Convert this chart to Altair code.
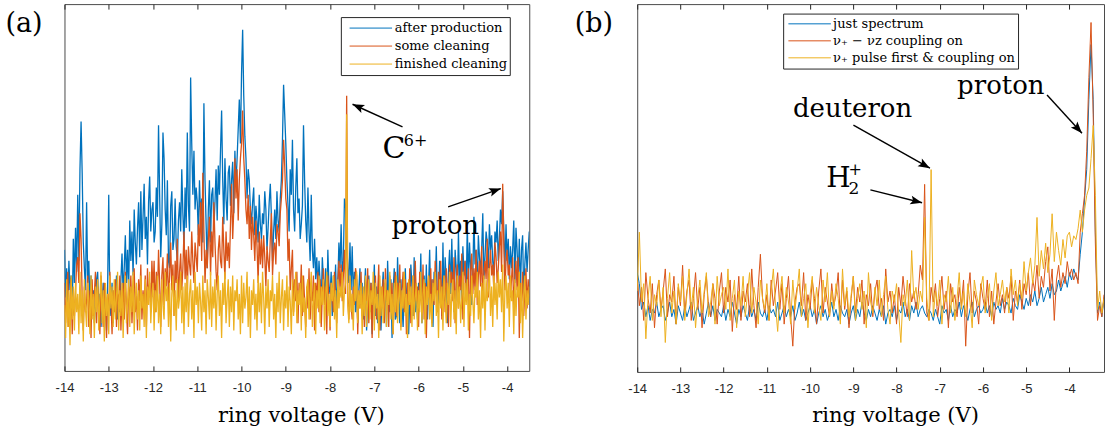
import math
import altair as alt
import pandas as pd

# ---------------- data (y in % of plot height) ----------------
X_START = -14.0
A_STEP = 0.025   # sampling step of panel (a) spectra (V)
B_STEP = 0.05    # sampling step of panel (b) spectra (V)

# panel (a)
a_after = [33, 20, 28, 17, 30, 22, 26, 15, 36, 24,
           39, 27, 48, 30, 55, 68, 54, 35, 28, 22,
           46, 24, 30, 18, 26, 15, 22, 13, 19, 25,
           27, 16, 21, 12, 17, 24, 14, 20, 11, 23,
           48, 18, 15, 24, 13, 22, 17, 26, 14, 20,
           16, 25, 32, 21, 28, 37, 24, 33, 22, 41,
           30, 38, 26, 44, 35, 29, 39, 46, 31, 49,
           33, 42, 51, 36, 42, 29, 46, 53, 38, 44,
           46, 35, 38, 50, 42, 67, 48, 31, 40, 65,
           58, 44, 37, 52, 30, 28, 45, 49, 33, 36,
           47, 34, 30, 41, 46, 38, 55, 43, 34, 50,
           39, 65, 45, 38, 80, 62, 48, 60, 44, 50,
           46, 37, 52, 42, 47, 35, 73, 52, 40, 28,
           44, 52, 35, 48, 50, 39, 46, 55, 41, 56,
           48, 60, 71, 52, 40, 58, 47, 41, 54, 56,
           45, 52, 57, 43, 60, 51, 58, 66, 74, 62,
           81, 93, 75, 64, 58, 47, 55, 52, 44, 40,
           46, 50, 37, 45, 41, 35, 48, 40, 36, 43,
           40, 49, 44, 33, 39, 46, 51, 42, 30, 38,
           44, 36, 49, 41, 38, 47, 52, 63, 78, 70,
           62, 52, 45, 38, 55, 48, 63, 44, 38, 50,
           58, 43, 47, 36, 40, 45, 67, 52, 41, 35,
           50, 38, 30, 48, 33, 28, 36, 25, 31, 22,
           30, 24, 18, 31, 25, 20, 28, 16, 33, 23,
           21, 27, 15, 26, 20, 29, 17, 24, 35, 28,
           40, 26, 30, 47, 45, 36, 28, 24, 35, 22,
           34, 20, 27, 16, 25, 13, 22, 28, 18, 24,
           14, 22, 28, 11, 19, 26, 16, 24, 10, 21,
           29, 15, 23, 13, 26, 18, 11, 21, 27, 17,
           24, 12, 30, 20, 16, 25, 9, 22, 28, 14,
           15, 31, 20, 13, 25, 18, 12, 22, 28, 17,
           24, 10, 19, 29, 23, 15, 31, 16, 21, 14,
           24, 19, 32, 13, 21, 26, 16, 29, 14, 23,
           33, 18, 25, 12, 27, 22, 34, 17, 20, 30,
           25, 15, 35, 19, 31, 24, 13, 27, 33, 21,
           36, 23, 16, 33, 28, 19, 38, 24, 30, 17,
           34, 26, 30, 21, 40, 24, 35, 28, 18, 26,
           42, 29, 33, 22, 37, 31, 27, 33, 43, 25,
           31, 38, 35, 28, 40, 33, 37, 30, 26, 38,
           35, 41, 30, 36, 44, 40, 49, 38, 28, 40,
           30, 36, 25, 34, 28, 33, 41, 24, 39, 33,
           25, 36, 22, 33, 37, 20, 29, 35, 27, 33,
           38]
a_some = [24, 13, 21, 27, 12, 19, 25, 10, 20, 15,
          22, 29, 31, 24, 43, 36, 20, 11, 23, 16,
          19, 26, 12, 22, 9, 25, 15, 21, 27, 13,
          23, 17, 10, 26, 20, 12, 24, 18, 9, 21,
          15, 27, 19, 10, 22, 16, 25, 12, 21, 18,
          26, 11, 20, 24, 14, 27, 17, 10, 23, 19,
          26, 13, 22, 28, 16, 21, 11, 25, 19, 29,
          14, 22, 17, 26, 12, 28, 20, 24, 16, 30,
          22, 30, 16, 27, 20, 33, 24, 12, 26, 31,
          18, 28, 23, 32, 19, 26, 35, 22, 29, 15,
          30, 24, 36, 19, 27, 32, 22, 28, 38, 25,
          33, 21, 34, 29, 26, 38, 30, 24, 35, 31,
          27, 40, 34, 46, 30, 54, 38, 24, 33, 28,
          36, 42, 26, 38, 31, 46, 35, 27, 22, 33,
          37, 30, 28, 42, 33, 25, 38, 30, 35, 28,
          40, 51, 36, 44, 58, 47, 55, 41, 52, 58,
          62, 71, 58, 52, 44, 40, 48, 36, 45, 33,
          42, 37, 30, 41, 34, 24, 38, 29, 36, 28,
          37, 31, 23, 34, 30, 27, 36, 43, 26, 33,
          35, 29, 40, 38, 34, 43, 47, 52, 63, 56,
          47, 44, 30, 36, 22, 28, 33, 16, 25, 19,
          27, 13, 24, 20, 29, 15, 26, 19, 12, 23,
          17, 28, 14, 22, 19, 26, 11, 24, 20, 27,
          16, 25, 12, 21, 28, 18, 23, 10, 26, 19,
          11, 24, 21, 16, 27, 19, 13, 24, 30, 22,
          29, 19, 26, 33, 21, 75, 20, 14, 25, 18,
          14, 23, 18, 28, 26, 10, 22, 17, 27, 15,
          21, 12, 25, 19, 28, 13, 20, 24, 9, 22,
          18, 26, 14, 21, 29, 11, 23, 17, 25, 13,
          28, 19, 22, 12, 26, 18, 24, 10, 21, 27,
          15, 24, 19, 29, 12, 22, 27, 16, 25, 10,
          24, 18, 28, 13, 21, 26, 15, 30, 19, 23,
          12, 27, 20, 17, 29, 14, 24, 9, 22, 26,
          19, 28, 13, 25, 18, 30, 22, 16, 27, 20,
          30, 14, 23, 26, 16, 28, 21, 12, 29, 24,
          27, 19, 31, 13, 24, 29, 17, 26, 22, 32,
          14, 26, 30, 20, 24, 28, 9, 27, 32, 21,
          28, 22, 33, 18, 26, 30, 23, 34, 19, 27,
          30, 25, 36, 20, 28, 33, 26, 29, 22, 35,
          31, 24, 28, 34, 38, 27, 51, 35, 22, 30,
          33, 26, 29, 20, 25, 31, 15, 26, 30, 22,
          31, 9, 24, 19, 27, 15, 22, 28, 17, 25,
          20]
a_finished = [18, 9, 25, 12, 22, 7, 26, 14, 23, 11,
              24, 16, 21, 10, 27, 13, 22, 8, 25, 17,
              12, 24, 19, 10, 26, 14, 21, 9, 23, 16,
              25, 11, 20, 27, 13, 22, 8, 24, 15, 21,
              10, 26, 17, 23, 12, 25, 14, 20, 27, 11,
              22, 15, 24, 9, 21, 26, 13, 19, 25, 12,
              23, 16, 27, 10, 20, 24, 14, 22, 11, 26,
              17, 21, 12, 25, 9, 23, 18, 27, 13, 20,
              24, 11, 22, 16, 26, 13, 21, 10, 25, 18,
              14, 27, 19, 23, 12, 24, 8, 21, 26, 15,
              22, 11, 25, 17, 20, 27, 13, 23, 10, 24,
              16, 26, 12, 21, 25, 14, 22, 9, 27, 18,
              23, 13, 24, 19, 11, 26, 16, 22, 10, 25,
              20, 14, 27, 12, 23, 17, 25, 11, 21, 26,
              15, 22, 9, 24, 18, 27, 13, 20, 25, 12,
              23, 16, 26, 11, 22, 19, 25, 14, 21, 10,
              26, 13, 24, 17, 20, 27, 12, 23, 9, 22,
              18, 25, 14, 21, 11, 26, 16, 24, 13, 27,
              20, 10, 23, 17, 25, 12, 22, 19, 26, 14,
              21, 9, 24, 16, 27, 13, 20, 25, 11, 22,
              17, 26, 12, 23, 19, 10, 25, 15, 21, 27,
              13, 22, 18, 24, 11, 26, 16, 20, 9, 23,
              25, 14, 21, 27, 12, 19, 24, 10, 22, 17,
              26, 13, 23, 18, 25, 11, 20, 27, 15, 21,
              12, 24, 19, 26, 14, 22, 9, 25, 17, 23,
              20, 27, 15, 22, 24, 70, 18, 13, 26, 16,
              21, 11, 25, 19, 27, 13, 22, 17, 24, 10,
              23, 15, 26, 12, 20, 25, 14, 22, 18, 27,
              11, 24, 17, 21, 9, 26, 15, 23, 13, 20,
              25, 12, 22, 18, 27, 14, 21, 10, 24, 16,
              26, 13, 20, 24, 11, 22, 17, 27, 15, 21,
              9, 25, 18, 23, 12, 26, 14, 20, 24, 11,
              22, 16, 27, 13, 21, 25, 10, 23, 18, 26,
              14, 21, 12, 24, 19, 27, 15, 22, 9, 25,
              17, 23, 11, 26, 20, 13, 24, 18, 27, 12,
              21, 25, 14, 22, 10, 26, 17, 23, 13, 20,
              27, 12, 24, 18, 25, 11, 21, 15, 26, 19,
              13, 23, 20, 27, 14, 22, 9, 24, 17, 26,
              11, 25, 19, 22, 28, 15, 23, 12, 26, 18,
              24, 14, 27, 20, 25, 16, 29, 8, 22, 26,
              17, 24, 12, 26, 19, 22, 10, 25, 15, 23,
              20, 27, 13, 24, 9, 21, 26, 14, 22, 18,
              23]

# panel (b)
b_just = [27, 24, 17, 19, 15, 18, 14, 17, 16, 19,
          15, 17, 18, 14, 16, 19, 15, 17, 13, 18,
          16, 14, 18, 15, 17, 19, 14, 16, 18, 15,
          17, 13, 16, 19, 15, 18, 14, 17, 16, 15,
          18, 14, 17, 15, 19, 16, 13, 17, 15, 18,
          16, 14, 18, 15, 17, 14, 19, 16, 15, 17,
          14, 18, 16, 17, 15, 19, 14, 16, 18, 15,
          17, 15, 18, 14, 16, 19, 15, 17, 14, 16,
          18, 15, 17, 13, 16, 18, 15, 17, 14, 16,
          19, 15, 17, 14, 18, 16, 15, 17, 13, 16,
          18, 14, 17, 15, 19, 16, 14, 17, 15, 18,
          16, 14, 17, 15, 18, 13, 16, 17, 15, 18,
          14, 17, 16, 19, 15, 17, 14, 18, 16, 19,
          15, 17, 18, 16, 15, 17, 16, 14, 17, 15,
          13, 18, 16, 17, 14, 18, 15, 17, 16, 19,
          15, 18, 16, 14, 17, 19, 15, 17, 18, 16,
          17, 19, 16, 18, 15, 19, 17, 18, 16, 20,
          17, 19, 18, 16, 20, 18, 17, 21, 19, 17,
          20, 18, 21, 19, 22, 18, 20, 23, 19, 21,
          23, 20, 24, 21, 22, 25, 22, 24, 26, 23,
          27, 25, 28, 26, 25, 32, 38, 47, 55, 74,
          89, 74, 38, 16, 19, 15, 20]
b_coupling = [26, 18, 23, 14, 27, 20, 16, 24, 12, 21,
              25, 17, 22, 28, 15, 21, 19, 26, 13, 23,
              18, 29, 16, 22, 25, 14, 20, 27, 17, 23,
              12, 21, 26, 18, 15, 24, 20, 13, 22, 27,
              16, 23, 19, 25, 11, 21, 17, 26, 14, 22,
              19, 24, 15, 28, 18, 12, 23, 32, 20, 16,
              21, 14, 25, 18, 22, 27, 17, 24, 13, 20,
              26, 15, 7, 19, 23, 24, 18, 27, 14, 21,
              17, 25, 20, 13, 22, 28, 16, 23, 19, 15,
              24, 18, 21, 27, 14, 25, 17, 22, 12, 20,
              26, 16, 23, 19, 25, 13, 21, 18, 24, 15,
              22, 25, 17, 20, 14, 28, 19, 22, 16, 21,
              13, 23, 18, 26, 20, 15, 24, 19, 22, 17,
              21, 29, 25, 51, 16, 14, 23, 19, 24, 15,
              20, 26, 17, 22, 12, 24, 19, 21, 15, 23,
              18, 25, 7, 21, 27, 16, 22, 19, 13, 24,
              20, 17, 25, 15, 22, 13, 19, 24, 18, 21,
              16, 23, 20, 26, 14, 22, 19, 25, 17, 24,
              21, 27, 18, 25, 22, 29, 20, 26, 23, 30,
              34, 22, 28, 14, 25, 29, 23, 27, 24, 30,
              26, 28, 25, 27, 24, 38, 43, 48, 60, 80,
              95, 70, 35, 14, 18, 15, 21]
b_pulse = [22, 38, 19, 24, 9, 20, 26, 14, 21, 18,
           25, 15, 23, 8, 20, 27, 16, 22, 13, 24,
           19, 26, 14, 21, 28, 17, 23, 12, 20, 25,
           16, 22, 27, 15, 19, 24, 13, 26, 18, 21,
           23, 17, 28, 14, 20, 25, 12, 22, 18, 26,
           15, 21, 27, 16, 23, 19, 13, 25, 20, 17,
           24, 14, 22, 28, 18, 11, 21, 26, 16, 23,
           19, 13, 25, 17, 22, 28, 15, 20, 24, 12,
           21, 26, 16, 23, 18, 14, 25, 19, 27, 15,
           22, 17, 24, 20, 13, 28, 18, 23, 15, 21,
           26, 14, 20, 24, 17, 22, 12, 27, 19, 16,
           23, 18, 25, 15, 21, 26, 17, 13, 22, 19,
           24, 16, 8, 21, 18, 25, 14, 33, 20, 23,
           17, 22, 19, 42, 20, 14, 55, 15, 22, 18,
           25, 13, 21, 19, 26, 16, 23, 14, 20, 27,
           17, 22, 15, 24, 19, 12, 25, 21, 18, 23,
           26, 16, 20, 24, 14, 22, 27, 18, 21, 25,
           19, 23, 16, 28, 21, 25, 18, 24, 20, 30,
           22, 27, 31, 24, 29, 42, 26, 33, 28, 35,
           27, 32, 43, 30, 38, 33, 29, 36, 31, 37,
           38, 34, 37, 36, 39, 44, 38, 44, 48, 50,
           58, 67, 48, 17, 22, 16, 20]

a_names = ["after production", "some cleaning", "finished cleaning"]
b_names = ["just spectrum", "\u03bd\u208a \u2212 \u03bdz coupling on", "\u03bd\u208a pulse first & coupling on"]
line_colors = ["#0072BD", "#D95319", "#EDB120"]
tick_values = [-14, -13, -12, -11, -10, -9, -8, -7, -6, -5, -4]
panel_labels = ["(a)", "(b)"]
axis_title = "ring voltage (V)"

# annotations (data coordinates)
a_ann_text = ["C", "6+", "proton"]
a_ann_x = [-6.815, -6.334, -6.611]
a_ann_y = [58.0, 61.3, 37.3]
a_ann_size = [30, 16, 26]
a_arrow_x1 = [-6.363, -5.333]
a_arrow_y1 = [66.5, 44.7]
a_arrow_x2 = [-7.492, -4.143]
a_arrow_y2 = [72.7, 49.7]

b_ann_text = ["deuteron", "proton", "H", "2", "+"]
b_ann_x = [-10.397, -6.599, -9.629, -9.113, -9.110]
b_ann_y = [69.2, 75.5, 50.4, 48.3, 53.6]
b_ann_size = [26, 26, 28, 17, 16]
b_arrow_x1 = [-8.998, -8.605, -4.518]
b_arrow_y1 = [67.1, 49.5, 75.3]
b_arrow_x2 = [-7.228, -7.409, -3.709]
b_arrow_y2 = [55.4, 46.0, 64.9]

# ---------------- styling ----------------
GRAY = "#262626"
SERIF = "DejaVu Serif"
SANS = "Liberation Sans"
ARROW_PATH = "M0,0L-0.45,1.2L0,0.95L0.45,1.2Z"


def series_frame(values, name, step):
    return pd.DataFrame({
        "x": [round(X_START + step * i, 4) for i in range(len(values))],
        "y": values,
        "series": name,
    })


def make_panel(series, names, step, line_width, xdomain, width, height, legend_xy, legend_clip,
               legend_sym_off, legend_label_off, title_xy, ann, arrows, label, label_x):
    xscale = alt.Scale(domain=xdomain, nice=False, zero=False)
    yscale = alt.Scale(domain=[0, 100], nice=False, zero=False)
    cscale = alt.Scale(domain=names, range=line_colors)
    legend = alt.Legend(
        title=None, orient="none", legendX=legend_xy[0], legendY=legend_xy[1],
        direction="vertical", symbolType="stroke", symbolSize=1806,
        symbolStrokeWidth=1, symbolOffset=legend_sym_off, labelOffset=legend_label_off,
        clipHeight=legend_clip, rowPadding=0, padding=2,
        labelFont=SERIF, labelFontSize=13, labelColor="black", labelLimit=0,
        strokeColor=GRAY, fillColor="white", cornerRadius=0,
    )
    bottom_axis = alt.Axis(
        orient="bottom", values=tick_values, offset=-5, tickSize=5, tickColor=GRAY,
        tickWidth=1, domain=False, grid=False, labelFont=SANS, labelFontSize=13,
        labelFontWeight="normal", labelColor=GRAY, labelPadding=11, labelFlush=False,
        labelOverlap=False, labelExpr="replace(datum.label, '\u2212', '-')",
        title=axis_title, titleFont=SERIF, titleFontSize=21, titleFontWeight="normal",
        titleColor="black", titleX=title_xy[0], titleY=title_xy[1],
        titleAlign="center", titleBaseline="alphabetic",
    )
    top_axis = alt.Axis(
        orient="top", values=tick_values, offset=-5, tickSize=5, tickColor=GRAY,
        tickWidth=1, domain=False, grid=False, labels=False, title=None,
    )
    layers = []
    for k, (vals, name) in enumerate(zip(series, names)):
        layers.append(
            alt.Chart(series_frame(vals, name, step)).mark_line(strokeWidth=line_width, clip=True).encode(
                x=alt.X("x:Q", scale=xscale, axis=bottom_axis if k == 0 else None),
                y=alt.Y("y:Q", scale=yscale, axis=None),
                color=alt.Color("series:N", scale=cscale, legend=legend),
            )
        )
    sx = width / (xdomain[1] - xdomain[0])
    sy = height / 100.0
    x1, y1, x2, y2 = arrows
    angles = []
    for a, b, c, d in zip(x1, y1, x2, y2):
        dx = (c - a) * sx
        dy = -(d - b) * sy
        angles.append(math.degrees(math.atan2(dx, -dy)) % 360)
    arr_df = pd.DataFrame({"x1": x1, "y1": y1, "x2": x2, "y2": y2, "angle": angles})
    shaft = alt.Chart(arr_df).mark_rule(color="black", strokeWidth=1.4).encode(
        x=alt.X("x1:Q", scale=xscale, axis=top_axis),
        y=alt.Y("y1:Q", scale=yscale, axis=None),
        x2="x2:Q", y2="y2:Q",
    )
    head = alt.Chart(arr_df).mark_point(
        shape=ARROW_PATH, filled=True, color="black", size=380, opacity=1, strokeWidth=0
    ).encode(
        x=alt.X("x2:Q", scale=xscale, axis=None),
        y=alt.Y("y2:Q", scale=yscale, axis=None),
        angle=alt.Angle("angle:Q", scale=None),
    )
    ann_df = pd.DataFrame({"text": ann[0], "x": ann[1], "y": ann[2], "size": ann[3]})
    texts = alt.Chart(ann_df).mark_text(
        align="left", baseline="alphabetic", font=SERIF, color="black"
    ).encode(
        x=alt.X("x:Q", scale=xscale, axis=None),
        y=alt.Y("y:Q", scale=yscale, axis=None),
        text="text:N",
        size=alt.Size("size:Q", scale=None),
    )
    lab = alt.Chart(pd.DataFrame({"text": [label]})).mark_text(
        align="left", baseline="alphabetic", font=SERIF, fontSize=27, color="black"
    ).encode(text="text:N", x=alt.value(label_x), y=alt.value(28))
    return alt.layer(*layers, shaft, head, texts, lab).properties(width=width, height=height)


panel_a = make_panel(
    [a_after, a_some, a_finished], a_names, A_STEP, 1.3, [-14, -3.5], 465, 367,
    legend_xy=(276.5, 13), legend_clip=18, legend_sym_off=6, legend_label_off=2,
    title_xy=(236.5, 56),
    ann=(a_ann_text, a_ann_x, a_ann_y, a_ann_size),
    arrows=(a_arrow_x1, a_arrow_y1, a_arrow_x2, a_arrow_y2),
    label=panel_labels[0], label_x=-59,
)
panel_b = make_panel(
    [b_just, b_coupling, b_pulse], b_names, B_STEP, 1.0, [-14, -3.2], 467, 368,
    legend_xy=(146, 9.5), legend_clip=16.5, legend_sym_off=2.5, legend_label_off=1.5,
    title_xy=(258, 55),
    ann=(b_ann_text, b_ann_x, b_ann_y, b_ann_size),
    arrows=(b_arrow_x1, b_arrow_y1, b_arrow_x2, b_arrow_y2),
    label=panel_labels[1], label_x=-62.5,
)

chart = alt.hconcat(panel_a, panel_b, spacing=108, bounds="flush").resolve_scale(
    x="independent", y="independent", color="independent"
).resolve_legend(color="independent").configure_view(
    stroke="#4a4a4a", strokeWidth=1
).configure_legend(
    labelFont=SERIF
).properties(
    padding={"left": 4.5, "top": 3, "right": 0, "bottom": 0}
)

chart.save("out.html", embed_options={"renderer": "svg", "actions": False})
